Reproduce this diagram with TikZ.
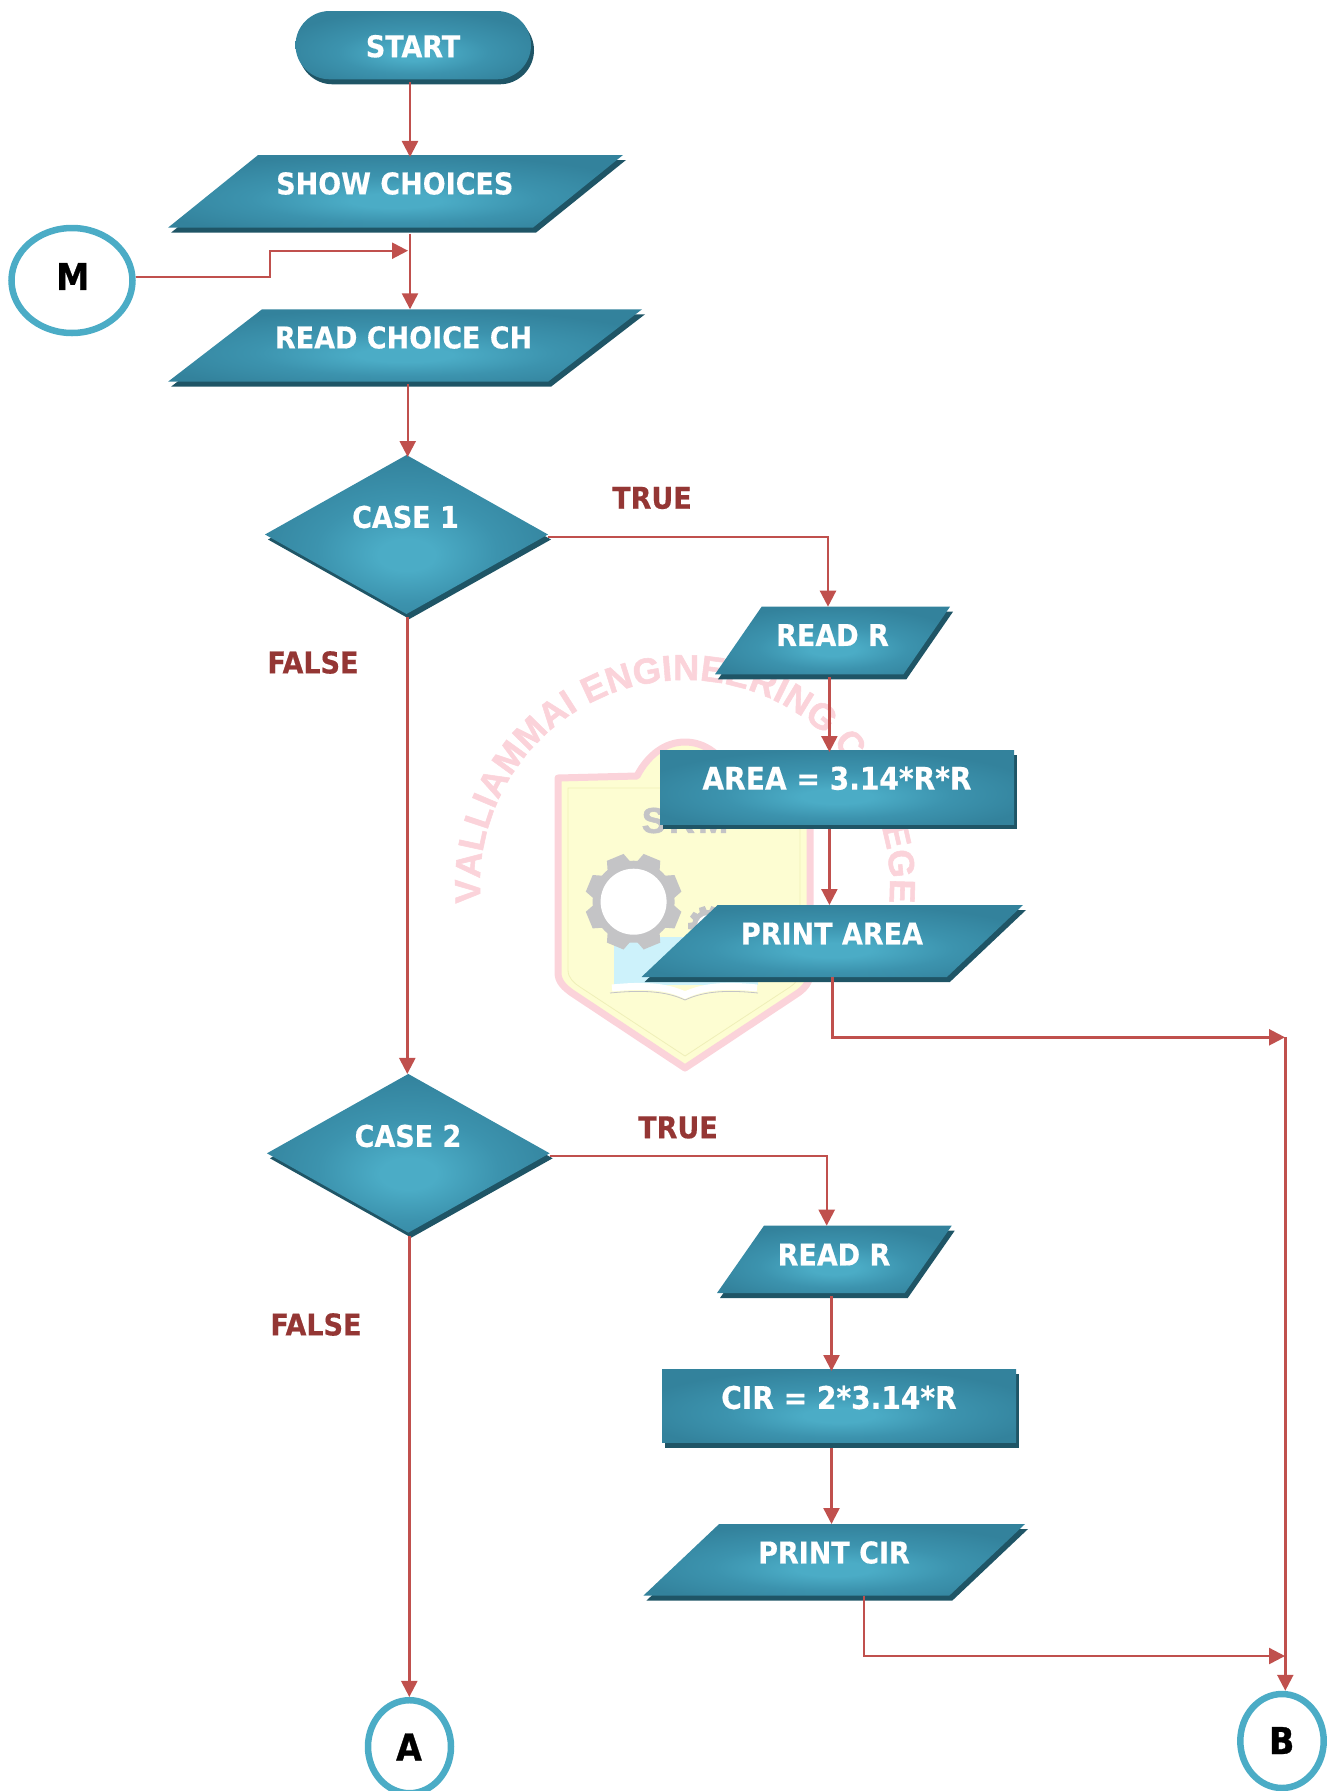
\documentclass[tikz,border=0pt]{standalone}
\usepackage{fontspec}
\usetikzlibrary{shapes.geometric,shapes.misc,shadows,arrows.meta,decorations.text}
\setmainfont{DejaVu Sans}
\newfontfamily\boxfont{DejaVu Sans Condensed}[BoldFont={DejaVu Sans Condensed Bold},BoldFeatures={FakeBold=0.4}]
\newfontfamily\heavyfont{DejaVu Sans Condensed}[BoldFont={DejaVu Sans Condensed Bold},BoldFeatures={FakeBold=0.8}]
\newfontfamily\wmfontfam{Liberation Sans}[BoldFont={Liberation Sans Bold},BoldFeatures={FakeBold=1.5}]
\newcommand{\wmfont}{\wmfontfam\bfseries\fontsize{36}{36}\selectfont}
\definecolor{tealE}{HTML}{33829C}
\definecolor{tealM}{HTML}{3C93AE}
\definecolor{tealC}{HTML}{4BACC6}
\definecolor{tealD}{HTML}{1F5566}
\definecolor{ringC}{HTML}{4BACC6}
\definecolor{arrowC}{HTML}{C0504D}
\definecolor{labelC}{HTML}{943634}
\definecolor{wmpink}{HTML}{FBD3DA}
\definecolor{wmyellow}{HTML}{FDFDD2}
\definecolor{wmline}{HTML}{EFEFB8}
\definecolor{wmcyan}{HTML}{CDF2FB}
\definecolor{wmgrey}{HTML}{C4C4C6}
\pgfdeclareradialshading{tealglow}{\pgfpoint{0bp}{-7bp}}{%
  color(0bp)=(tealC); color(5bp)=(tealC); color(16bp)=(tealM); color(29bp)=(tealE); color(60bp)=(tealE)}
\tikzset{
  tealshape/.style={shade,shading=tealglow,draw=none,inner sep=0pt,outer sep=0pt,
    drop shadow={shadow xshift=3pt,shadow yshift=-5pt,fill=tealD,opacity=1}},
  para/.style n args={3}{tealshape,trapezium,trapezium stretches body=true,
    minimum width=#1pt,inner ysep=#2pt/2,
    trapezium left angle=#3,trapezium right angle=180-#3},
  procbox/.style 2 args={tealshape,rectangle,minimum width=#1pt,minimum height=#2pt},
  decision/.style 2 args={tealshape,diamond,shape aspect=1.78,minimum width=#1pt,minimum height=#2pt},
  terminal/.style 2 args={tealshape,rounded rectangle,minimum width=#1pt,minimum height=#2pt},
  connector/.style 2 args={ellipse,draw=ringC,line width=6.5pt,fill=white,inner sep=0pt,minimum width=#1pt,minimum height=#2pt},
  boxtext/.style={inner sep=0pt,text=white,font={\boxfont\bfseries\fontsize{30}{30}\selectfont}},
  widetext/.style={inner sep=0pt,text=white,font={\boxfont\bfseries\fontsize{31.2}{31.2}\selectfont}},
  flowtext/.style={inner sep=0pt,text=labelC,font={\boxfont\bfseries\fontsize{30}{30}\selectfont}},
  context/.style={inner sep=0pt,text=black,font={\heavyfont\bfseries\fontsize{37}{37}\selectfont}},
  link/.style={draw=arrowC,line width=2.4pt,-{Triangle[length=16pt,width=16pt]}},
  drop/.style={link,shorten >=-2pt}
}
\begin{document}
\begin{tikzpicture}[x=1pt,y=-1pt]
\useasboundingbox (0,0) rectangle (1328,1791);
\clip (0,0) rectangle (1328,1791);

% ---- pale watermark
\path[decorate,decoration={text along path,text align={fit to path},
  text={|\wmfont\color{wmpink}|VALLIAMMAI ENGINEERING COLLEGE}}]
  (480.8,902.9) arc[start angle=185,end angle=-5,radius=205pt];
\path[fill=wmyellow,draw=wmpink,line width=7pt,line join=round]
  (558,778) -- (637,776) .. controls (648,755) and (665,742) .. (685,742)
  .. controls (705,742) and (722,755) .. (733,776) -- (810,778) -- (810,973)
  .. controls (810,982) and (805,988) .. (798,993) -- (685,1068) -- (572,993)
  .. controls (565,988) and (558,982) .. (558,973) -- cycle;
\draw[wmline,line width=.8pt]
  (568,788) -- (800,788) -- (800,970) .. controls (800,978) and (796,983) .. (790,987)
  -- (685,1056) -- (580,987) .. controls (574,983) and (568,978) .. (568,970) -- cycle;
\fill[wmcyan] (614,937) rectangle (758,985);
\draw[white,line width=7pt] (612,988) .. controls (650,984) and (670,988) .. (685,995)
  .. controls (700,988) and (720,984) .. (757,988);
\draw[wmgrey,line width=.8pt] (610,993) .. controls (650,989) and (670,993) .. (685,1000)
  .. controls (700,993) and (720,989) .. (758,993);
\node[inner sep=0pt,text=wmgrey,font={\wmfontfam\bfseries\fontsize{36}{36}\selectfont}] (wmsrm) at (685,820.5)
  {\addfontfeature{LetterSpace=9}SRM};
\begin{scope}[shift={(633.6,901.7)}]
  \fill[wmgrey] (0,0) circle[radius=41pt];
  \foreach \a in {0,45,...,315}
    \fill[wmgrey,rotate=\a+22.5] (36pt,-13pt) -- (48pt,-9pt) -- (48pt,9pt) -- (36pt,13pt) -- cycle;
  \fill[white] (0,0) circle[radius=33pt];
\end{scope}
\begin{scope}[shift={(708,926)}]
  \fill[wmgrey] (0,0) circle[radius=16pt];
  \foreach \a in {0,36,...,324}
    \fill[wmgrey,rotate=\a] (13pt,-4pt) -- (20pt,-3pt) -- (20pt,3pt) -- (13pt,4pt) -- cycle;
  \fill[white] (0,0) circle[radius=11pt];
\end{scope}

% ---- flowchart shapes
\node[terminal={235.5}{68.3}] (start) at (413.25,45.15) {};
\node[para={455}{72.7}{38.9}] (show) at (395.5,191.35) {};
\node[para={474}{72.4}{37.6}] (read) at (405,345.5) {};
\node[decision={283}{159}] (case1) at (406.5,534.5) {};
\node[para={235}{67.6}{55.4}] (readone) at (832.5,640.5) {};
\node[procbox={354}{74}] (area) at (837,787) {};
\node[para={381.5}{72}{43.4}] (printarea) at (832.25,941) {};
\node[decision={282.7}{158.7}] (case2) at (408.3,1153.3) {};
\node[para={234.7}{67.3}{55.1}] (readtwo) at (834.35,1259.35) {};
\node[procbox={354}{73.7}] (cir) at (839,1405.85) {};
\node[para={381.7}{71.7}{43.4}] (printcir) at (834.15,1559.85) {};

\node[connector={121}{105}] (m) at (72,280.5) {};
\node[connector={83}{93}] (a) at (409.5,1746.7) {};
\node[connector={83.4}{94}] (b) at (1282,1741) {};

% ---- texts
\node[boxtext] (startT) at (413,46.3) {START};
\node[boxtext] (showT) at (394.8,183.5) {SHOW CHOICES};
\node[boxtext] (readT) at (403.6,337.5) {READ CHOICE CH};
\node[boxtext] (case1T) at (405.5,517) {CASE 1};
\node[boxtext] (readoneT) at (832.5,635) {READ R};
\node[widetext] (areaT) at (837,778.3) {AREA = 3.14*R*R};
\node[boxtext] (printareaT) at (832,933.5) {PRINT AREA};
\node[boxtext] (case2T) at (408,1136) {CASE 2};
\node[boxtext] (readtwoT) at (834,1254.5) {READ R};
\node[widetext] (cirT) at (839,1397.5) {CIR = 2*3.14*R};
\node[boxtext] (printcirT) at (834,1552.5) {PRINT CIR};
\node[flowtext] (true1) at (652,498) {TRUE};
\node[flowtext] (false1) at (313,662.5) {FALSE};
\node[flowtext] (true2) at (678,1127.5) {TRUE};
\node[flowtext] (false2) at (316,1324.5) {FALSE};
\node[context] (mT) at (72.7,276.5) {M};
\node[context] (aT) at (409,1747) {A};
\node[context] (bT) at (1281.7,1740.5) {B};

% ---- routing columns and joints
\coordinate (colA) at (410,0);
\coordinate (colB) at (407.7,0);
\coordinate (colC) at (407.3,0);
\coordinate (colD) at (409.3,0);
\coordinate (colE) at (828,0);
\coordinate (colF) at (829.4,0);
\coordinate (colG) at (826.7,0);
\coordinate (colH) at (831.5,0);
\coordinate (colI) at (832.5,0);
\coordinate (colJ) at (864,0);
\coordinate (bus) at (1285.3,1037.3);
\coordinate (joinA) at (1285,1037.3);
\coordinate (joinB) at (1285,1656);
\coordinate (mbend) at (270,250.7);
\coordinate (mtip) at (408,250.7);

% ---- connectors
\draw[drop,shorten <=3pt] (colA |- start.south) -- (colA |- show.north);
\draw[link,shorten <=6pt] (colA |- show.south) -- (colA |- read.north);
\draw[link] (m.3) -| (mbend) -- (mtip);
\draw[drop,shorten <=2pt] (colB |- read.south) -- (colB |- case1.north);
\draw[link] ([yshift=-2.7pt]case1.east) -| (colE |- readone.north);
\draw[link,shorten <=3pt] (colC |- case1.south) -- (colC |- case2.north);
\draw[drop,shorten <=3pt] (colF |- readone.south) -- (colF |- area.north);
\draw[link,shorten <=5pt] (colF |- area.south) -- (colF |- printarea.north);
\draw[link] (colI |- printarea.south) |- (joinA);
\draw[link] ([yshift=-2.7pt]case2.east) -| (colG |- readtwo.north);
\draw[drop,shorten <=3pt] (colH |- readtwo.south) -- (colH |- cir.north);
\draw[link,shorten <=5pt] (colH |- cir.south) -- (colH |- printcir.north);
\draw[link] (colJ |- printcir.south) |- (joinB);
\draw[link,shorten <=3pt] (colD |- case2.south) -- (colD |- a.north);
\draw[link] (bus) -- (bus |- b.north);
\end{tikzpicture}
\end{document}
